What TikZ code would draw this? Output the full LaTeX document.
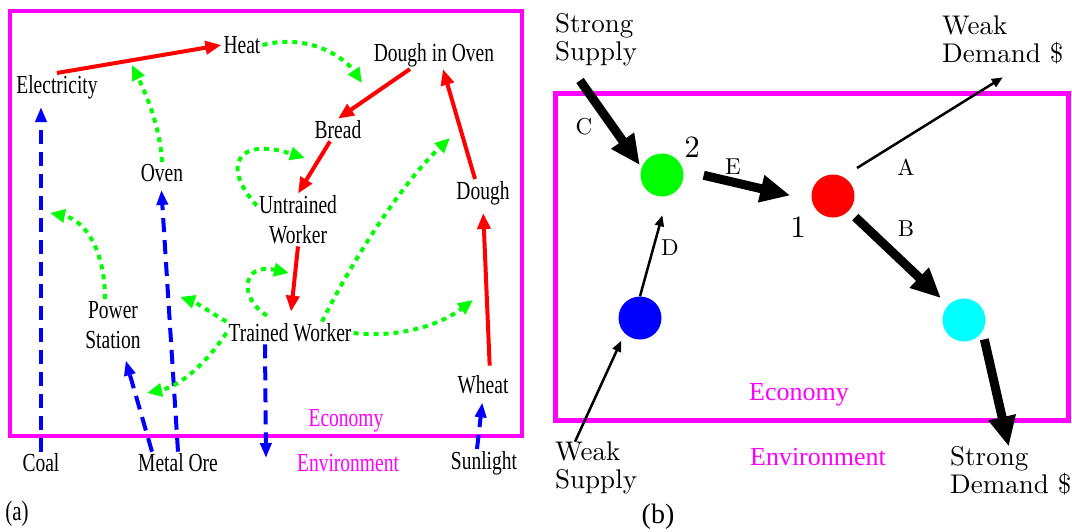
\documentclass[tikz,border=0pt]{standalone}
\usepackage{fontspec}
\newfontfamily\timesnarrow[FakeStretch=0.75]{Liberation Serif}
\newfontfamily\timesfont{Liberation Serif}
\newfontfamily\cmten{lmroman10-regular.otf}
\usetikzlibrary{arrows.meta,calc}
\definecolor{zoneMagenta}{RGB}{255,0,255}
\definecolor{pureCyan}{RGB}{0,255,255}
\definecolor{pureGreen}{RGB}{0,255,0}
\definecolor{pureBlue}{RGB}{0,0,255}
\definecolor{pureRed}{RGB}{255,0,0}

\begin{document}
\begin{tikzpicture}[
    x=1pt, y=-1pt,
    goodText/.style={font=\timesnarrow\fontsize{26}{30}\selectfont,inner sep=2pt,align=center},
    zoneText/.style={goodText,text=zoneMagenta},
    zoneTextB/.style={font=\timesfont\fontsize{26}{30}\selectfont,text=zoneMagenta,inner sep=2pt},
    flowLabel/.style={font=\cmten\fontsize{27}{28}\selectfont,inner sep=0pt,align=left,anchor=west},
    edgeLabel/.style={font=\cmten\fontsize{23}{23}\selectfont,inner sep=0pt},
    numLabel/.style={font=\cmten\fontsize{31}{31}\selectfont,inner sep=0pt},
    sector/.style={circle,minimum size=43pt,inner sep=0pt},
    zoneBox/.style={draw=zoneMagenta,line width=4pt},
    redFlow/.style={draw=pureRed,line width=4pt,-{Triangle[length=16pt,width=13pt]}},
    blueFlow/.style={draw=pureBlue,line width=4pt,dash pattern=on 14pt off 8pt,-{Triangle[length=15pt,width=11pt]}},
    greenFlow/.style={draw=pureGreen,line width=4pt,dash pattern=on 5pt off 5pt,-{Triangle[length=15pt,width=13pt]}},
    bigArrow/.style={line width=9pt,-{Triangle[length=30pt,width=26pt]}},
    thinArrow/.style={line width=2.5pt,-{Triangle[length=11pt,width=9pt]}},
]
\useasboundingbox (0,0) rectangle (1072,531);
% === panel (a) ===
\draw[zoneBox] (10,11) rectangle (522,436);
\node[goodText] (elec) at (57,87) {Electricity};
\node[goodText] (heat) at (242,45) {Heat};
\node[goodText] (dio) at (434,55) {Dough in Oven};
\node[goodText] (bread) at (338,130) {Bread};
\node[goodText] (oven) at (162,173) {Oven};
\node[goodText] (untr) at (298,220) {Untrained\\Worker};
\node[goodText] (dough) at (483,193) {Dough};
\node[goodText] (power) at (113,325) {Power\\Station};
\node[goodText] (trained) at (290,333) {Trained Worker};
\node[goodText] (wheat) at (483,385) {Wheat};
\node[zoneText] (ecoA) at (346,421) {Economy};
\node[goodText] (coal) at (41,463) {Coal};
\node[goodText] (ore) at (178,463) {Metal Ore};
\node[zoneText] (envA) at (348,463) {Environment};
\node[goodText] (sun) at (484,463) {Sunlight};
\node[font=\timesnarrow\fontsize{28}{30}\selectfont] (labA) at (17,514) {(a)};
% products
\draw[redFlow] (elec.north) -- (heat.west);
\draw[redFlow] ([xshift=-24pt]dio.south) -- (bread.north);
\draw[redFlow] ([xshift=-8pt]bread.south) -- (untr.north);
\draw[redFlow, shorten >=10pt] (untr.south) -- (trained.north);
\draw[redFlow] ([xshift=-8pt]dough.north) -- ([xshift=9pt]dio.south);
\draw[redFlow, shorten >=6pt, shorten <=8pt] ([xshift=7pt]wheat.north) -- (dough.south);
% resources
\coordinate (sink) at (266,458);
\draw[blueFlow, shorten >=6pt] (coal.north) -- ([xshift=-16pt]elec.south);
\draw[blueFlow, shorten >=6pt] (ore.north) -- ([xshift=-1pt]oven.south);
\draw[blueFlow, shorten >=10pt] ([xshift=-26pt]ore.north) -- ([xshift=10pt]power.south);
\draw[blueFlow] ([xshift=-25pt]trained.south) -- (sink);
\draw[blueFlow, shorten >=6pt] ([xshift=-7pt]sun.north) -- (wheat.south);
% catalysts
\coordinate (bakeHit) at (362,83);
\coordinate (heatHit) at (132,65);
\coordinate (breadHit) at (305,158);
\coordinate (trainHit) at (289,273);
\coordinate (ovenHit) at (180,297);
\coordinate (stationHit) at (147,393);
\coordinate (elecHit) at (50,213);
\coordinate (doughHit) at (450,138);
\coordinate (wheatHit) at (473,300);
\draw[greenFlow] (heat.east) .. controls (310,33) and (345,58) .. (bakeHit);
\draw[greenFlow] (oven.north) .. controls (160,125) and (145,92) .. (heatHit);
\draw[greenFlow] ([yshift=-12pt]untr.north west) .. controls (222,168) and (235,136) .. (breadHit);
\draw[greenFlow] ([xshift=-23pt,yshift=6pt]trained.north) .. controls (240,300) and (240,262) .. (trainHit);
\draw[greenFlow] (trained.north west) .. controls (210,312) and (195,302) .. (ovenHit);
\draw[greenFlow] (trained.west) .. controls (212,355) and (185,385) .. (stationHit);
\draw[greenFlow] ([xshift=-8pt]power.north) .. controls (105,250) and (85,220) .. (elecHit);
\draw[greenFlow] ([xshift=32pt]trained.north) .. controls (350,265) and (400,185) .. (doughHit);
\draw[greenFlow] (trained.east) .. controls (400,338) and (440,325) .. (wheatHit);
% === panel (b) ===
\draw[zoneBox, line width=5pt] (555,93) rectangle (1068,420);
\node[sector, fill=pureGreen] (secTwo) at (662,175) {};
\node[sector, fill=pureRed] (secOne) at (833,196) {};
\node[sector, fill=pureBlue] (secIn) at (640,318) {};
\node[sector, fill=pureCyan] (secOut) at (964,320) {};
\node[numLabel] (numTwo) at (692,147) {2};
\node[numLabel] (numOne) at (798,227) {1};
\node[flowLabel] (ssup) at (555,40) {Strong\\Supply};
\node[flowLabel] (wdem) at (942,40) {Weak\\Demand \$};
\node[flowLabel] (wsup) at (555,468) {Weak\\Supply};
\node[flowLabel] (sdem) at (950,471) {Strong\\Demand \$};
\node[edgeLabel] (lblC) at (584,127) {C};
\node[edgeLabel] (lblE) at (733,167) {E};
\node[edgeLabel] (lblA) at (906,167) {A};
\node[edgeLabel] (lblB) at (906,229) {B};
\node[edgeLabel] (lblD) at (670,248) {D};
\node[zoneTextB] (ecoB) at (799,395) {Economy};
\node[zoneTextB] (envB) at (818,457) {Environment};
\node[font=\timesfont\fontsize{28}{30}\selectfont] (labB) at (658,517) {(b)};
\draw[bigArrow, shorten >=3pt] ([xshift=25pt,yshift=-14pt]ssup.south west) -- (secTwo.160);
\draw[bigArrow, shorten <=21pt, shorten >=22pt] (secTwo.12) -- (secOne.-168);
\draw[thinArrow] ($(secOne)+(24,-28)$) -- ([yshift=-13pt]wdem.south);
\draw[bigArrow, shorten <=9pt, shorten >=10pt] (secOne) -- (secOut);
\draw[bigArrow] ($(secOut.-45)+(5,4)$) -- ([xshift=-2pt]sdem.north);
\draw[thinArrow, shorten >=20pt] (secIn.north) -- (secTwo.-75);
\draw[thinArrow, shorten >=8pt] ([xshift=20pt]wsup.north west) -- (secIn.-135);
\end{tikzpicture}
\end{document}
